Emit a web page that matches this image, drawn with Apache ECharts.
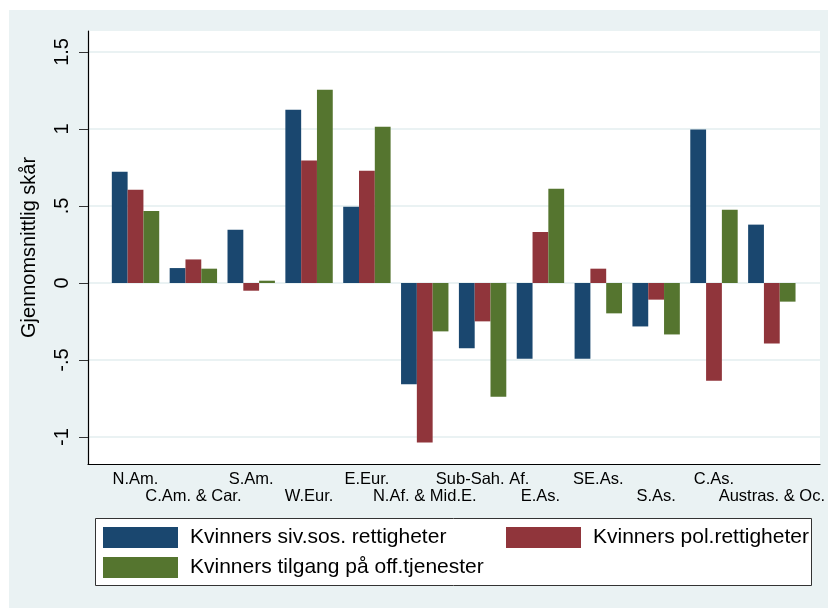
<!DOCTYPE html>
<html>
<head>
<meta charset="utf-8">
<script src="https://cdn.jsdelivr.net/npm/echarts@6/dist/echarts.min.js"></script>
<style>
  html, body { margin: 0; padding: 0; background: #fff; }
  #chart { width: 828px; height: 608px; }
</style>
</head>
<body>
<div id="chart"></div>
<script>
var categories = ["N.Am.", "C.Am. & Car.", "S.Am.", "W.Eur.", "E.Eur.", "N.Af. & Mid.E.", "Sub-Sah. Af.", "E.As.", "SE.As.", "S.As.", "C.As.", "Austras. & Oc."];
var sivSos = [0.723, 0.097, 0.346, 1.125, 0.495, -0.658, -0.424, -0.492, -0.492, -0.282, 0.996, 0.379];
var polRett = [0.606, 0.153, -0.050, 0.796, 0.729, -1.035, -0.249, 0.331, 0.093, -0.108, -0.634, -0.392];
var offTjen = [0.467, 0.093, 0.015, 1.255, 1.015, -0.314, -0.738, 0.612, -0.197, -0.334, 0.476, -0.121];
var seriesNames = ["Kvinners siv.sos. rettigheter", "Kvinners pol.rettigheter", "Kvinners tilgang på off.tjenester"];
var yTickValues = [-1, -0.5, 0, 0.5, 1, 1.5];
var yTickLabels = ["-1", "-.5", "0", ".5", "1", "1.5"];

var font = "Liberation Sans, Arial, Helvetica, sans-serif";
var colors = ["#1a476f", "#90353b", "#55752f"];
var yMin = -1.175, yMax = 1.636;

var chart = echarts.init(document.getElementById("chart"));

function bar(name, data, i) {
  return {
    name: name,
    type: "bar",
    xAxisIndex: 0,
    yAxisIndex: 0,
    data: data,
    barWidth: 15.8,
    barGap: "0%",
    itemStyle: { color: colors[i] },
    emphasis: { disabled: true }
  };
}

function legendItem(name, left, top) {
  return {
    data: [name],
    left: left,
    top: top,
    padding: 0,
    itemWidth: 75,
    itemHeight: 21,
    itemGap: 0,
    icon: "rect",
    selectedMode: false,
    textStyle: { fontFamily: font, fontSize: 21, color: "#000", padding: [0, 0, 0, 7] }
  };
}

var option = {
  backgroundColor: "#fff",
  animation: false,
  graphic: [
    { type: "rect", z: -10, shape: { x: 9, y: 10, width: 819, height: 598 }, style: { fill: "#eaf2f3" } },
    { type: "rect", z: 1, shape: { x: 95.5, y: 518.5, width: 716, height: 67 }, style: { fill: "#fff", stroke: "#333", lineWidth: 1 } }
  ],
  grid: [
    { left: 106.6, right: 27, top: 31, bottom: 144 },
    { left: 88, right: 8, top: 31, bottom: 144, show: true, backgroundColor: "#fff", borderWidth: 0 }
  ],
  xAxis: [
    {
      type: "category",
      gridIndex: 0,
      data: categories,
      axisLine: { show: false, onZero: false },
      axisTick: { show: false },
      axisLabel: {
        interval: 0,
        margin: 7,
        fontFamily: font,
        fontSize: 16.5,
        lineHeight: 17,
        color: "#000",
        verticalAlign: "top",
        formatter: function (value, index) {
          return index % 2 ? "\n" + value : value;
        }
      }
    },
    {
      type: "value",
      gridIndex: 1,
      min: 0,
      max: 1,
      axisLine: { show: true, onZero: false, lineStyle: { color: "#000", width: 1.2 } },
      axisTick: { show: false },
      axisLabel: { show: false },
      splitLine: { show: false }
    }
  ],
  yAxis: [
    { type: "value", gridIndex: 0, min: yMin, max: yMax, show: false },
    {
      type: "value",
      gridIndex: 1,
      min: yMin,
      max: yMax,
      name: "Gjennomsnittlig skår",
      nameLocation: "middle",
      nameGap: 49,
      nameTextStyle: { fontFamily: font, fontSize: 20, color: "#000" },
      axisLine: { show: true, onZero: false, lineStyle: { color: "#000", width: 1.2 } },
      axisTick: { show: true, length: 9, customValues: yTickValues, lineStyle: { color: "#333" } },
      axisLabel: {
        rotate: 90,
        margin: 16,
        fontFamily: font,
        fontSize: 20,
        color: "#000",
        customValues: yTickValues,
        formatter: function (v) {
          return yTickLabels[yTickValues.indexOf(v)];
        }
      },
      splitLine: { show: true, lineStyle: { color: "#eaf2f3", width: 2 } }
    }
  ],
  legend: [
    legendItem(seriesNames[0], 103, 527),
    legendItem(seriesNames[1], 506, 527),
    legendItem(seriesNames[2], 103, 557)
  ],
  series: [
    bar(seriesNames[0], sivSos, 0),
    bar(seriesNames[1], polRett, 1),
    bar(seriesNames[2], offTjen, 2)
  ]
};

chart.setOption(option);
</script>
</body>
</html>
